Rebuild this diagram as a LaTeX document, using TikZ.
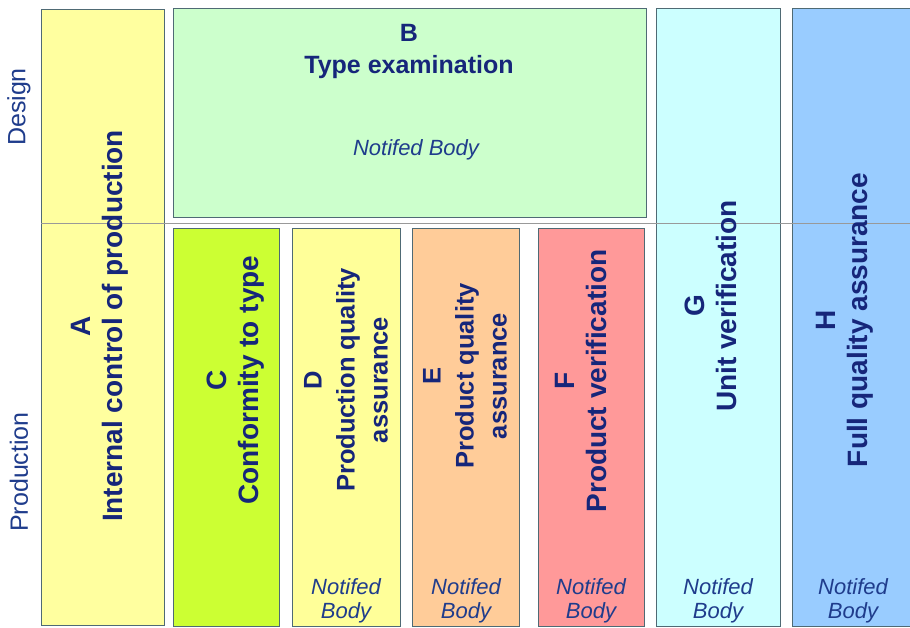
\documentclass[tikz,border=0pt]{standalone}
\usepackage{fontspec}
\setmainfont{Liberation Sans}
\definecolor{ink}{HTML}{16267A}
\definecolor{inklight}{HTML}{1F3C8C}
\definecolor{edge}{HTML}{4F6A74}
\definecolor{cA}{HTML}{FFFF9F}
\definecolor{cB}{HTML}{CCFFCC}
\definecolor{cC}{HTML}{CCFF33}
\definecolor{cD}{HTML}{FFFF99}
\definecolor{cE}{HTML}{FFCC99}
\definecolor{cF}{HTML}{FF9999}
\definecolor{cG}{HTML}{CCFFFF}
\definecolor{cH}{HTML}{99CCFF}
\tikzset{
  module/.style={draw=edge, line width=1.1pt, inner sep=0pt, anchor=north west},
  title/.style={text=ink, font=\bfseries\fontsize{28}{32}\selectfont, align=center, inner sep=0pt},
  vtitle/.style={title, rotate=90},
  nb/.style={text=inklight, font=\itshape\fontsize{22}{24.5}\selectfont, align=center, inner sep=0pt},
  phase/.style={text=inklight, font=\fontsize{25}{28}\selectfont, rotate=90, inner sep=0pt},
  divider/.style={draw=gray!80, line width=0.8pt}
}
\begin{document}
\begin{tikzpicture}[x=1pt,y=-1pt]
\clip (0,0) rectangle (910,627);
\fill[white] (0,0) rectangle (910,627);

% module boxes
\node[module, fill=cA, minimum width=123pt, minimum height=616pt] (boxA) at (41,9) {};
\node[module, fill=cB, minimum width=473pt, minimum height=209pt] (boxB) at (173,8) {};
\node[module, fill=cC, minimum width=106pt, minimum height=398pt] (boxC) at (173,228) {};
\node[module, fill=cD, minimum width=108pt, minimum height=398pt] (boxD) at (292,228) {};
\node[module, fill=cE, minimum width=107pt, minimum height=398pt] (boxE) at (412,228) {};
\node[module, fill=cF, minimum width=106pt, minimum height=398pt] (boxF) at (538,228) {};
\node[module, fill=cG, minimum width=124pt, minimum height=618pt] (boxG) at (656,8) {};
\node[module, fill=cH, minimum width=130pt, minimum height=618pt] (boxH) at (792,8) {};

% design / production boundary
\coordinate (divL) at (41,223);
\coordinate (divR) at (910,223);
\draw[divider] (divL) -- (divR);

% phase labels
\node[phase] (design) at (19,107) {Design};
\node[phase] (production) at (19,472) {Production};

% module titles
\node[vtitle] (tA) at (100,326) {A\\Internal control of production};
\node[title, font=\bfseries\fontsize{25}{32}\selectfont] (tB) at (409,51) {B\\Type examination};
\node[vtitle] (tC) at (236,380) {C\\Conformity to type};
\node[vtitle, font=\bfseries\fontsize{25.5}{33}\selectfont] (tD) at (346,380) {D\\Production quality\\assurance};
\node[vtitle, font=\bfseries\fontsize{25.5}{33}\selectfont] (tE) at (465,376) {E\\Product quality\\assurance};
\node[vtitle] (tF) at (581,381) {F\\Product verification};
\node[vtitle] (tG) at (711,306) {G\\Unit verification};
\node[vtitle] (tH) at (845,320) {H\\Full quality assurance};

% notified body remarks
\node[nb] (nbB) at (416,150) {Notifed Body};
\node[nb] (nbD) at (346,601) {Notifed\\Body};
\node[nb] (nbE) at (466,601) {Notifed\\Body};
\node[nb] (nbF) at (591,601) {Notifed\\Body};
\node[nb] (nbG) at (718,601) {Notifed\\Body};
\node[nb] (nbH) at (853,601) {Notifed\\Body};
\end{tikzpicture}
\end{document}
